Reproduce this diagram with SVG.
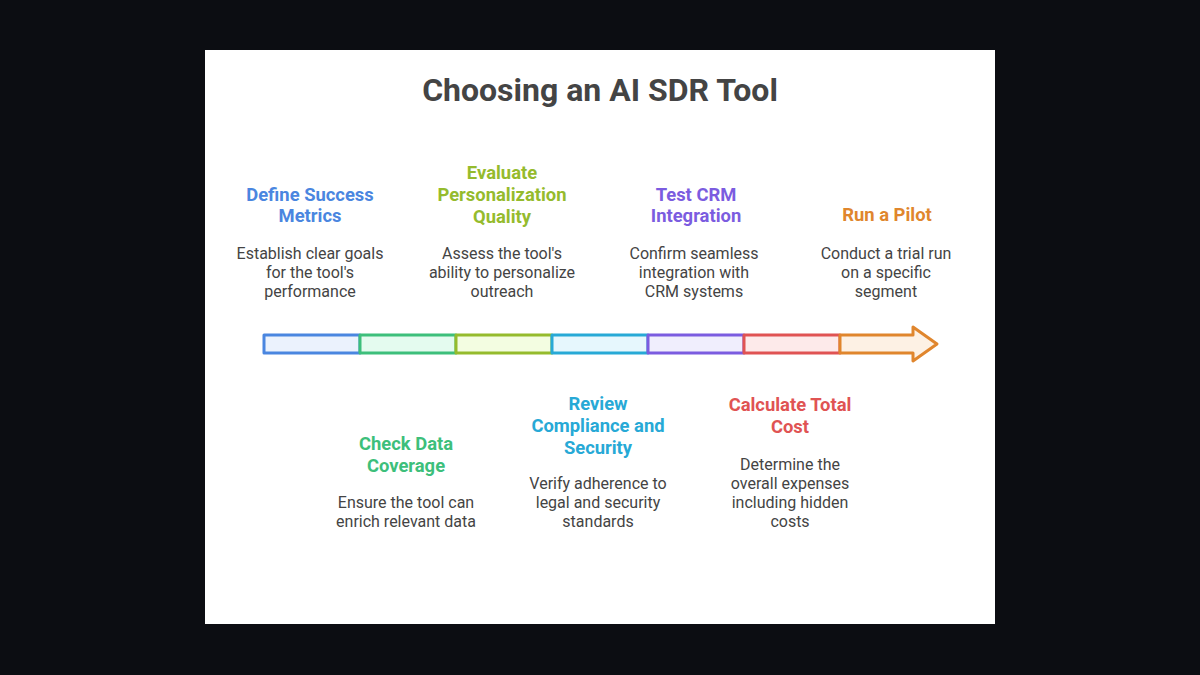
<svg xmlns="http://www.w3.org/2000/svg" width="1200" height="675" viewBox="0 0 1200 675">
<style>
.t{font-family:Roboto,"Liberation Sans",sans-serif;font-weight:700;font-size:32px;fill:#444;text-anchor:middle}
.h{font-family:Roboto,"Liberation Sans",sans-serif;font-weight:700;font-size:18.4px;text-anchor:middle}
.d{font-family:Roboto,"Liberation Sans",sans-serif;font-size:16px;fill:#444;text-anchor:middle}
.seg{stroke-width:3;stroke-linejoin:round}
</style>
<rect width="1200" height="675" fill="#0c0d12"/>
<rect x="205" y="50" width="790" height="574" fill="#ffffff"/>
<text class="t" x="600" y="101">Choosing an AI SDR Tool</text>
<g id="connectors">
<rect class="seg" x="264" y="335" width="96" height="18" fill="#ebf2fd" stroke="#4a86e0"/>
<rect class="seg" x="360" y="335" width="96" height="18" fill="#e4fbef" stroke="#3dbf7b"/>
<rect class="seg" x="456" y="335" width="96" height="18" fill="#f3fde1" stroke="#95bb2d"/>
<rect class="seg" x="552" y="335" width="96" height="18" fill="#e6f7fd" stroke="#27a9d6"/>
<rect class="seg" x="648" y="335" width="96" height="18" fill="#f0eefd" stroke="#7b5ce0"/>
<rect class="seg" x="744" y="335" width="96" height="18" fill="#fdeaea" stroke="#e05353"/>
<path class="seg" d="M840,335 L913,335 L913,327 L937,344 L913,361 L913,353 L840,353 Z" fill="#fdf1e4" stroke="#e0862d"/>
</g>
<g id="n1">
<text class="h" fill="#4a86e0" x="310" y="200.5">Define Success</text>
<text class="h" fill="#4a86e0" x="310" y="222">Metrics</text>
<text class="d" x="310" y="259">Establish clear goals</text>
<text class="d" x="310" y="278">for the tool's</text>
<text class="d" x="310" y="297">performance</text>
</g>
<g id="n2">
<text class="h" fill="#3dbf7b" x="406" y="449.5">Check Data</text>
<text class="h" fill="#3dbf7b" x="406" y="471.5">Coverage</text>
<text class="d" x="406" y="508">Ensure the tool can</text>
<text class="d" x="406" y="527">enrich relevant data</text>
</g>
<g id="n3">
<text class="h" fill="#95bb2d" x="502" y="179">Evaluate</text>
<text class="h" fill="#95bb2d" x="502" y="201">Personalization</text>
<text class="h" fill="#95bb2d" x="502" y="223">Quality</text>
<text class="d" x="502" y="259">Assess the tool's</text>
<text class="d" x="502" y="278">ability to personalize</text>
<text class="d" x="502" y="297">outreach</text>
</g>
<g id="n4">
<text class="h" fill="#27a9d6" x="598" y="410">Review</text>
<text class="h" fill="#27a9d6" x="598" y="432">Compliance and</text>
<text class="h" fill="#27a9d6" x="598" y="454">Security</text>
<text class="d" x="598" y="489">Verify adherence to</text>
<text class="d" x="598" y="508">legal and security</text>
<text class="d" x="598" y="527">standards</text>
</g>
<g id="n5">
<text class="h" fill="#7b5ce0" x="696" y="200.5">Test CRM</text>
<text class="h" fill="#7b5ce0" x="696" y="222">Integration</text>
<text class="d" x="694" y="259">Confirm seamless</text>
<text class="d" x="694" y="278">integration with</text>
<text class="d" x="694" y="297">CRM systems</text>
</g>
<g id="n6">
<text class="h" fill="#e05353" x="790" y="411">Calculate Total</text>
<text class="h" fill="#e05353" x="790" y="433">Cost</text>
<text class="d" x="790" y="470">Determine the</text>
<text class="d" x="790" y="489">overall expenses</text>
<text class="d" x="790" y="508">including hidden</text>
<text class="d" x="790" y="527">costs</text>
</g>
<g id="n7">
<text class="h" fill="#e0862d" x="887" y="221">Run a Pilot</text>
<text class="d" x="886" y="259">Conduct a trial run</text>
<text class="d" x="886" y="278">on a specific</text>
<text class="d" x="886" y="297">segment</text>
</g>
</svg>
